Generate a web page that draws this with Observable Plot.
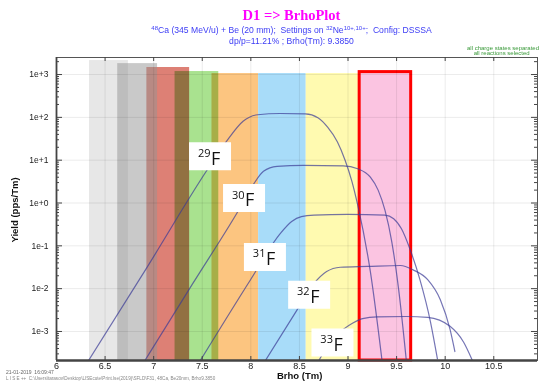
<!DOCTYPE html>
<html><head><meta charset="utf-8">
<script src="https://cdn.jsdelivr.net/npm/d3@7"></script>
<script src="https://cdn.jsdelivr.net/npm/@observablehq/plot@0.6"></script>
<style>
body{margin:0;background:#fff;}
#wrap{position:relative;width:539px;height:381px;overflow:hidden;font-family:"Liberation Sans",Arial,sans-serif;}
#chart{position:absolute;left:0;top:0;}
.t{position:absolute;left:0;width:539px;text-align:center;white-space:nowrap;}
sup{font-size:70%;vertical-align:0;position:relative;top:-0.45em;}
</style></head><body>
<div id="wrap">
<div id="chart"></div>
<div class="t" style="top:7px;left:22px;font-family:'Liberation Serif',serif;font-weight:bold;font-size:14.5px;color:#ff00ff;">D1 =&gt; BrhoPlot</div>
<div class="t" style="top:25px;left:22px;font-size:8.6px;color:#3c3cf5;"><sup>48</sup>Ca (345 MeV/u) + Be (20 mm);&nbsp; Settings on <sup>32</sup>Ne<sup>10+,10+</sup>;&nbsp; Config: DSSSA</div>
<div class="t" style="top:36px;left:22px;font-size:8.6px;color:#3c3cf5;">dp/p=11.21% ; Brho(Tm): 9.3850</div>
<div style="position:absolute;left:467px;top:46px;font-size:6px;line-height:5px;color:#3a9a3a;white-space:nowrap;">all charge states separated<br>&nbsp;&nbsp;&nbsp;&nbsp;all reactions selected</div>
<div style="position:absolute;left:6px;top:369.5px;font-size:5px;line-height:5px;color:#666;white-space:nowrap;">21-01-2019&nbsp; 16:09:47</div>
<div style="position:absolute;left:6px;top:375.5px;font-size:4.6px;line-height:5px;color:#888;white-space:nowrap;">L I S E ++&nbsp; C:\Users\tarasov\Desktop\LISEcute\Print.lse(2019)\SFLD\F31, 48Ca, Be20mm, Brho9.3850</div>
<div style="position:absolute;left:277px;top:370px;font-size:9.5px;font-weight:bold;color:#111;white-space:nowrap;">Brho (Tm)</div>
<div style="position:absolute;left:14px;top:210px;font-size:9.5px;font-weight:bold;color:#111;white-space:nowrap;transform:translate(-50%,-50%) rotate(-90deg);">Yield (pps/Tm)</div>
</div>
<script>
// ---- axis ticks ----
const xTicks = [6, 6.5, 7, 7.5, 8, 8.5, 9, 9.5, 10, 10.5];
const yTicks = [1e-3, 1e-2, 1e-1, 1, 10, 100, 1000];
const yTickLabels = ["1e-3", "1e-2", "1e-1", "1e+0", "1e+1", "1e+2", "1e+3"];

// ---- Brho acceptance bands (draw order) ----
const bandStart = [6.34, 6.93, 6.63, 7.60, 7.22, 8.08, 8.57, 9.12];
const bandEnd   = [6.74, 7.37, 7.04, 8.08, 7.67, 8.57, 9.11, 9.65];
const bandTop   = [2120, 1460, 1800, 1055, 1175, 1055, 1055, 1140];
const bandColor = ["#e7e7e7", "#dd8075", "#939393", "#fcc580", "#a9e28f", "#a8dcf9", "#fffab0", "#fbc4e1"];
const bandOpacity = [1, 1, 0.5, 1, 1, 1, 1, 1];
const bandBlend = ["normal", "normal", "normal", "normal", "multiply", "normal", "normal", "normal"];
const selectedBand = 7;

// ---- yield curves ----
const isotopes = ["29F", "30F", "31F", "32F", "33F"];
const brho29 = [6.33, 6.93, 7.55, 7.77, 7.92, 8.07, 8.3, 8.56, 8.69, 8.79, 8.89, 8.97, 9.04, 9.1, 9.23, 9.35];
const yield29 = [2.1e-4, 0.031, 5.9, 32, 81, 115, 123, 120, 98, 59, 27, 10, 3.2, 0.89, 0.025, 2.1e-4];
const brho30 = [6.91, 7.4, 7.9, 8.03, 8.13, 8.27, 8.54, 8.95, 9.1, 9.23, 9.31, 9.38, 9.45, 9.52, 9.6];
const yield30 = [2.1e-4, 0.0129, 0.85, 2.8, 5.5, 7.2, 7.6, 7.4, 6.3, 4.0, 2.0, 0.68, 0.126, 0.01, 2.1e-4];
const brho31 = [7.48, 8.0, 8.3, 8.42, 8.52, 8.65, 9.0, 9.38, 9.47, 9.55, 9.64, 9.74, 9.85, 9.92];
const yield31 = [2.1e-4, 0.0166, 0.19, 0.37, 0.48, 0.52, 0.54, 0.52, 0.43, 0.25, 0.081, 0.0162, 0.00162, 2.3e-4];
const brho32 = [8.15, 8.46, 8.65, 8.78, 8.92, 9.2, 9.54, 9.67, 9.82, 9.95, 10.05, 10.1];
const yield32 = [2.1e-4, 0.0028, 0.0132, 0.025, 0.0316, 0.033, 0.0347, 0.0275, 0.0162, 0.0055, 0.00112, 3.4e-4];
const brho33 = [8.70, 8.85, 8.95, 9.05, 9.15, 9.3, 9.6, 9.82, 10.05, 10.19, 10.28];
const yield33 = [2.1e-4, 7.1e-4, 0.00112, 0.00158, 0.002, 0.0022, 0.00224, 0.00214, 0.00132, 5.6e-4, 2.1e-4];

// ---- isotope labels ----
const labelMass = ["29", "30", "31", "32", "33"];
const labelElem = ["F", "F", "F", "F", "F"];
const labelBrho = [7.58, 7.93, 8.145, 8.60, 8.84];
const labelYield = [12.3, 1.31, 0.055, 0.0072, 5.5e-4];

const xDomain = [6, 10.95];
const yDomain = [2.1e-4, 2500];

const curveBrho = [brho29, brho30, brho31, brho32, brho33];
const curveYield = [yield29, yield30, yield31, yield32, yield33];
const curves = isotopes.flatMap((iso, k) => curveBrho[k].map((b, i) => ({iso, brho: b, yield: curveYield[k][i]})));
const labels = labelMass.map((m, i) => ({mass: m, elem: labelElem[i], brho: labelBrho[i], yield: labelYield[i]}));

const minor = [];
for (let e = -4; e <= 3; e++) for (let m = 2; m <= 9; m++) {
  const v = m * Math.pow(10, e);
  if (v >= yDomain[0] && v <= yDomain[1]) minor.push(v);
}

const boxSymbol = {draw(ctx) { ctx.rect(-21, -14, 42, 28); }};

const bandMarks = bandStart.map((s, i) => Plot.rect([i], {
  x1: () => s, x2: () => bandEnd[i], y1: () => yDomain[0], y2: () => bandTop[i],
  fill: bandColor[i], fillOpacity: bandOpacity[i], mixBlendMode: bandBlend[i],
  stroke: i === selectedBand ? "#ff0000" : "none", strokeWidth: 3
}));

const plot = Plot.plot({
  width: 539, height: 381,
  marginTop: 57, marginBottom: 21, marginLeft: 56, marginRight: 2,
  style: {background: "transparent", fontFamily: "'Liberation Sans', Arial, sans-serif", color: "#222"},
  x: {domain: xDomain, axis: null},
  y: {type: "log", domain: yDomain, axis: null},
  marks: [
    ...bandMarks,
    Plot.ruleX(xTicks.slice(1), {stroke: "#000", strokeOpacity: 0.08}),
    Plot.ruleY(yTicks, {stroke: "#000", strokeOpacity: 0.08}),
    Plot.line(curves, {x: "brho", y: "yield", z: "iso", curve: "monotone-x", stroke: "#3a3a96", strokeOpacity: 0.7, strokeWidth: 1.2, clip: true}),
    Plot.dot(labels, {x: "brho", y: "yield", symbol: boxSymbol, r: 10, fill: "white", stroke: "none"}),
    Plot.text(labels, {x: "brho", y: "yield", text: "mass", textAnchor: "end", dx: 0.5, dy: -3, fontSize: 11, fill: "#111", fontFamily: "'Open Sans', sans-serif"}),
    Plot.text(labels, {x: "brho", y: "yield", text: "elem", textAnchor: "start", dx: 1, dy: 2.5, fontSize: 18, fill: "#111", fontFamily: "'Open Sans', sans-serif"}),
    Plot.frame({stroke: "#555", strokeWidth: 1}),
    Plot.ruleY(minor, {insetRight: 478, stroke: "#444"}),
    Plot.ruleY(yTicks, {insetRight: 475, stroke: "#444"}),
    Plot.ruleY(minor, {insetLeft: 478, stroke: "#444"}),
    Plot.ruleY(yTicks, {insetLeft: 475, stroke: "#444"}),
    Plot.ruleX(xTicks.slice(1), {insetBottom: 299, stroke: "#444"}),
    Plot.ruleX(xTicks.slice(1), {insetTop: 299, stroke: "#444"}),
    Plot.ruleY([yDomain[0]], {stroke: "#444", strokeWidth: 2.5}),
    Plot.ruleX([xDomain[0]], {stroke: "#444", strokeWidth: 1.8}),
    Plot.axisX(xTicks, {tickSize: 0, tickPadding: 2, fontSize: 9, tickFormat: d => String(d), label: null}),
    Plot.axisY(yTicks, {tickSize: 0, tickPadding: 8, fontSize: 8.5, tickFormat: d => yTickLabels[yTicks.indexOf(d)], label: null})
  ]
});
document.getElementById("chart").appendChild(plot);
</script>
</body></html>
